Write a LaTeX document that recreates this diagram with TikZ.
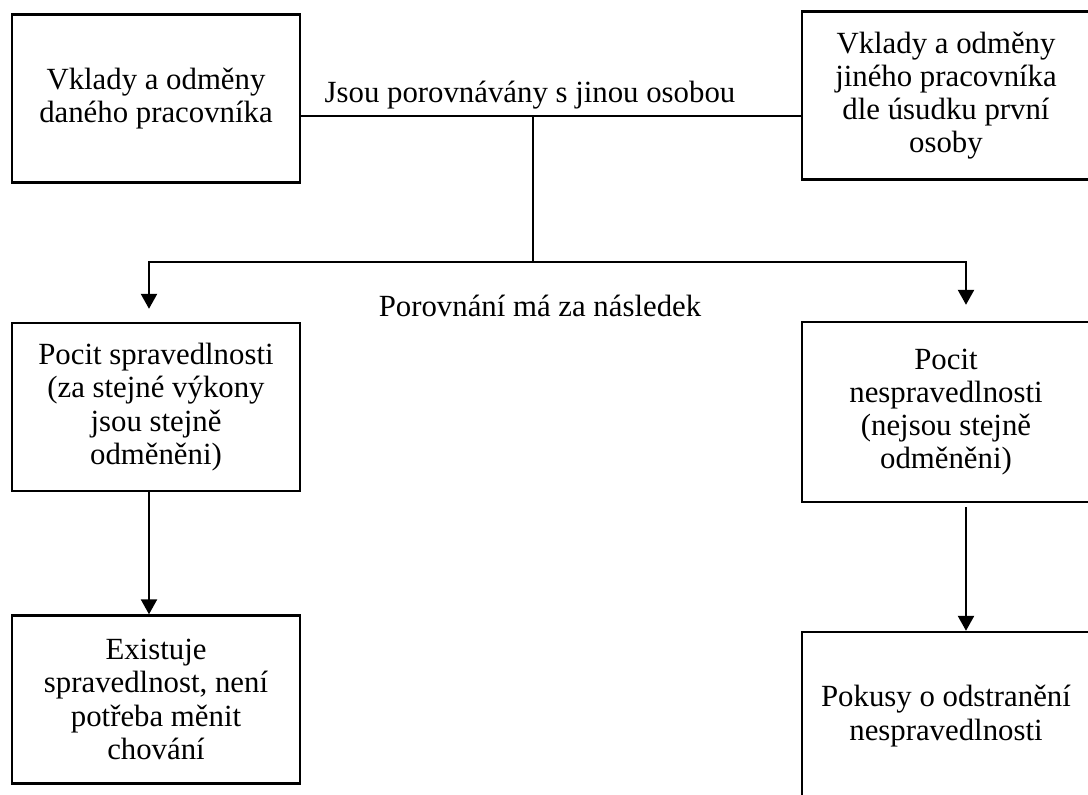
\documentclass[tikz,border=0pt]{standalone}
\usepackage{fontspec}
\setmainfont{Liberation Serif}
\usetikzlibrary{arrows.meta,calc}

\tikzset{
  blok/.style={draw, line width=1.2pt, minimum width=144pt, minimum height=84pt,
    align=center, inner sep=0pt, font=\fontsize{15.4}{16.6}\selectfont},
  spoj/.style={line width=1.2pt},
  sipka/.style={line width=1.2pt, -{Triangle[width=8pt,length=7.5pt]}},
  popis/.style={anchor=base, font=\fontsize{15.4}{16.6}\selectfont},
}

\begin{document}
\begin{tikzpicture}[x=0.5pt, y=-0.5pt]
        \useasboundingbox (0,0) rectangle (1088,794);

        % Horní bloky
        \node[blok] (vlastni) at (156,98.5) {Vklady a odměny\\daného pracovníka};
        \node[blok] (cizi) at (946,95.5) {Vklady a odměny\\jiného pracovníka\\dle úsudku první\\osoby};

        % Pocity
        \node[blok] (spravedl) at (156,407) {Pocit spravedlnosti\\(za stejné výkony\\jsou stejně\\odměněni)};
        \node[blok, minimum height=90pt] (nespravedl) at (946,412) {Pocit\\nespravedlnosti\\(nejsou stejně\\odměněni)};

        % Důsledky
        \node[blok] (zadna) at (156,699.5) {Existuje\\spravedlnost, není\\potřeba měnit\\chování};
        \node[blok] (pokusy) at (946,716) {Pokusy o odstranění\\nespravedlnosti};

        % Popisky
        \node[popis] (porovnani) at (530,102) {Jsou porovnávány s jinou osobou};
        \node[popis] (nasledek) at (540,316) {Porovnání má za následek};

        % Spojnice
        \coordinate (stred) at (533,116);
        \coordinate (rozcesti) at (533,262);
        \coordinate (levy) at (149,262);
        \coordinate (pravy) at (966,262);
        \draw[spoj] (vlastni.east |- stred) -- (cizi.west |- stred);
        \draw[spoj] (stred) -- (rozcesti);
        \draw[sipka, shorten >=6.5pt] (rozcesti) -- (levy) -- (levy |- spravedl.north);
        \draw[sipka, shorten >=8pt] (rozcesti) -- (pravy) -- (pravy |- nespravedl.north);
        \draw[sipka] (spravedl.south -| levy) -- (zadna.north -| levy);
        \draw[sipka, shorten <=2pt] (nespravedl.south -| pravy) -- (pokusy.north -| pravy);

    \end{tikzpicture}
\end{document}
